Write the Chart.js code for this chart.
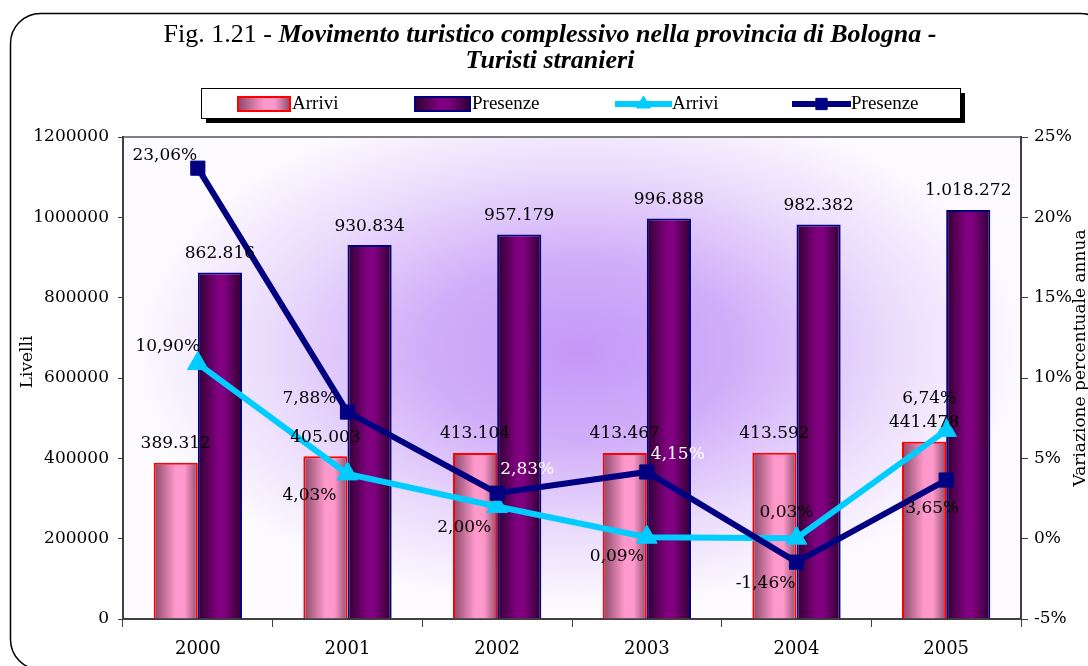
<!DOCTYPE html>
<html>
<head>
<meta charset="utf-8">
<script src="https://cdn.jsdelivr.net/npm/chart.js@4"></script>
<style>
  html, body { margin: 0; padding: 0; background: #fff; }
  #wrap { width: 1088px; height: 666px; position: relative; }
</style>
</head>
<body>
<div id="wrap"><canvas id="chart" width="1088" height="666"></canvas></div>
<script>
const years = ['2000', '2001', '2002', '2003', '2004', '2005'];
const arriviLevels = [389312, 405003, 413104, 413467, 413592, 441478];
const presenzeLevels = [862816, 930834, 957179, 996888, 982382, 1018272];
const arriviPct = [10.90, 4.03, 2.00, 0.09, 0.03, 6.74];
const presenzePct = [23.06, 7.88, 2.83, 4.15, -1.46, 3.65];
const leftTicks = [0, 200000, 400000, 600000, 800000, 1000000, 1200000];
const rightTicks = [-5, 0, 5, 10, 15, 20, 25];

// where each % label sits relative to its point (dx, dy, colour)
const arriviPctPlace = [[-30, -17], [-38, 22], [-33, 21], [-30, 19], [-10, -26], [-17, -32]];
const presenzePctPlace = [[-33, -13], [-38, -13], [30, -24, '#fff'], [31, -17, '#fff'], [-31, 21], [-14, 29]];

const SERIF = '"DejaVu Serif", Georgia, serif';
const TITLE_FONT = '"Liberation Serif", "Times New Roman", serif';
const CAT_PCT = 0.59;

const fmtLevel = v => String(v).replace(/\B(?=(\d{3})+(?!\d))/g, '.');
const fmtPct = v => v.toFixed(2).replace('.', ',') + '%';

function barGradient(ctx, x0, x1, which) {
  const g = ctx.createLinearGradient(x0, 0, x1, 0);
  if (which === 0) {
    g.addColorStop(0, '#8a4868');
    g.addColorStop(0.5, '#ff99cc');
    g.addColorStop(0.7, '#ff99cc');
    g.addColorStop(1, '#8e4c6c');
  } else {
    g.addColorStop(0, '#2e002e');
    g.addColorStop(0.45, '#800080');
    g.addColorStop(0.6, '#800080');
    g.addColorStop(1, '#2e002e');
  }
  return g;
}

function barFill(c) {
  const chart = c.chart;
  const xs = chart.scales.x;
  if (!chart.chartArea || !xs) return c.datasetIndex === 0 ? '#ff99cc' : '#800080';
  const center = xs.getPixelForValue(c.dataIndex);
  const w = xs.width / years.length * CAT_PCT / 2;
  const x0 = c.datasetIndex === 0 ? center - w : center;
  return barGradient(chart.ctx, x0, x0 + w, c.datasetIndex);
}

const frame = {
  id: 'frame',
  beforeDraw(chart) {
    const ctx = chart.ctx;
    const a = chart.chartArea;
    ctx.save();
    ctx.fillStyle = '#fff';
    ctx.fillRect(0, 0, chart.width, chart.height);
    // outer rounded border
    ctx.strokeStyle = '#000';
    ctx.lineWidth = 1.5;
    ctx.beginPath();
    ctx.roundRect(10.5, 13.5, 1100, 656, 30);
    ctx.stroke();
    // plot background
    ctx.save();
    ctx.beginPath();
    ctx.rect(a.left, a.top, a.right - a.left, a.bottom - a.top);
    ctx.clip();
    const cx = 580, cy = 350, rx = 450, ry = 260;
    ctx.translate(cx, cy);
    ctx.scale(1, ry / rx);
    const g = ctx.createRadialGradient(0, 0, 0, 0, 0, rx);
    g.addColorStop(0, '#c597f8');
    g.addColorStop(0.35, '#d1aef9');
    g.addColorStop(0.7, '#ebdcfc');
    g.addColorStop(1, '#fdfbff');
    ctx.fillStyle = g;
    ctx.fillRect(-rx * 2, -rx * 2, rx * 4, rx * 4);
    ctx.restore();
    ctx.strokeStyle = '#808080';
    ctx.lineWidth = 2;
    ctx.strokeRect(a.left, a.top, a.right - a.left, a.bottom - a.top);

    // title
    ctx.fillStyle = '#000';
    ctx.textBaseline = 'alphabetic';
    const part1 = 'Fig. 1.21 - ';
    const part2 = 'Movimento turistico complessivo nella provincia di Bologna -';
    ctx.font = '26px ' + TITLE_FONT;
    const w1 = ctx.measureText(part1).width;
    ctx.font = 'italic bold 26px ' + TITLE_FONT;
    const w2 = ctx.measureText(part2).width;
    let x = 550 - (w1 + w2) / 2;
    ctx.font = '26px ' + TITLE_FONT;
    ctx.textAlign = 'left';
    ctx.fillText(part1, x, 42);
    ctx.font = 'italic bold 26px ' + TITLE_FONT;
    ctx.fillText(part2, x + w1, 42);
    ctx.textAlign = 'center';
    ctx.fillText('Turisti stranieri', 550, 68);

    // axis titles
    ctx.font = '17px ' + SERIF;
    ctx.save();
    ctx.translate(28, 362);
    ctx.rotate(-Math.PI / 2);
    ctx.textBaseline = 'middle';
    ctx.fillText('Livelli', 0, 0);
    ctx.restore();
    ctx.save();
    ctx.translate(1081, 358);
    ctx.rotate(-Math.PI / 2);
    ctx.textBaseline = 'middle';
    ctx.fillText('Variazione percentuale annua', 0, 0);
    ctx.restore();

    // legend
    const lx = 201, ly = 88, lw = 759, lh = 30;
    ctx.fillStyle = '#000';
    ctx.fillRect(lx + 5, ly + 5, lw, lh);
    ctx.fillStyle = '#fff';
    ctx.fillRect(lx, ly, lw, lh);
    ctx.strokeStyle = '#000';
    ctx.lineWidth = 1;
    ctx.strokeRect(lx + 0.5, ly + 0.5, lw, lh);
    const ds = chart.data.datasets;
    const items = [[238, 292], [415, 472], [615, 672], [792, 851]];
    ctx.font = '19px ' + TITLE_FONT;
    ctx.textAlign = 'left';
    ctx.textBaseline = 'middle';
    const my = ly + lh / 2 + 1;
    items.forEach(([sx, tx], i) => {
      const d = ds[i];
      if (d.type === 'bar') {
        ctx.fillStyle = barGradient(ctx, sx, tx - 2, i);
        ctx.fillRect(sx, my - 7, tx - 2 - sx, 14);
        ctx.strokeStyle = d.borderColor;
        ctx.lineWidth = 2;
        ctx.strokeRect(sx, my - 7, tx - 2 - sx, 14);
      } else {
        ctx.strokeStyle = d.borderColor;
        ctx.fillStyle = d.backgroundColor;
        ctx.lineWidth = 6;
        ctx.beginPath();
        ctx.moveTo(sx, my);
        ctx.lineTo(tx, my);
        ctx.stroke();
        ctx.lineWidth = 1;
        Chart.helpers.drawPoint(ctx, {
          pointStyle: d.pointStyle, radius: 8, rotation: 0, borderWidth: 1
        }, (sx + tx) / 2, my);
      }
      ctx.fillStyle = '#000';
      ctx.fillText(d.label, tx, my);
    });
    ctx.restore();
  }
};

const labels = {
  id: 'valueLabels',
  afterDatasetsDraw(chart) {
    const ctx = chart.ctx;
    ctx.save();
    ctx.font = '17px ' + SERIF;
    ctx.textAlign = 'center';
    ctx.textBaseline = 'middle';
    chart.data.datasets.forEach((d, i) => {
      const meta = chart.getDatasetMeta(i);
      meta.data.forEach((el, j) => {
        if (d.type === 'bar') {
          ctx.fillStyle = '#000';
          ctx.fillText(fmtLevel(d.data[j]), el.x, el.y - 19);
        } else {
          const p = d.place[j];
          ctx.fillStyle = p[2] || '#000';
          ctx.fillText(fmtPct(d.data[j]), el.x + p[0], el.y + p[1]);
        }
      });
    });
    ctx.restore();
  }
};

new Chart(document.getElementById('chart'), {
  data: {
    labels: years,
    datasets: [
      {
        type: 'bar', label: 'Arrivi', data: arriviLevels, yAxisID: 'y',
        backgroundColor: barFill, borderColor: '#ff0000', borderWidth: 2,
        categoryPercentage: CAT_PCT, barPercentage: 1, order: 2
      },
      {
        type: 'bar', label: 'Presenze', data: presenzeLevels, yAxisID: 'y',
        backgroundColor: barFill, borderColor: '#000080', borderWidth: 2,
        categoryPercentage: CAT_PCT, barPercentage: 1, order: 3
      },
      {
        type: 'line', label: 'Arrivi', data: arriviPct, yAxisID: 'y1',
        borderColor: '#00ccff', backgroundColor: '#00ccff', borderWidth: 6,
        pointStyle: 'triangle', pointRadius: 12, pointBorderWidth: 1,
        tension: 0, order: 1, place: arriviPctPlace
      },
      {
        type: 'line', label: 'Presenze', data: presenzePct, yAxisID: 'y1',
        borderColor: '#000080', backgroundColor: '#000080', borderWidth: 6,
        pointStyle: 'rect', pointRadius: 10, pointBorderWidth: 1,
        tension: 0, order: 0, place: presenzePctPlace
      }
    ]
  },
  options: {
    responsive: false,
    animation: false,
    layout: { padding: { top: 137, left: 0, right: 0, bottom: 0 } },
    plugins: {
      legend: { display: false },
      title: { display: false },
      tooltip: { enabled: false }
    },
    scales: {
      x: {
        offset: true,
        grid: { offset: true, drawOnChartArea: false, color: '#404040', tickLength: 8, lineWidth: 1 },
        border: { color: '#404040', width: 2 },
        ticks: { color: '#000', font: { family: SERIF, size: 18 }, padding: 12 },
        afterFit: s => { s.height = 47; }
      },
      y: {
        position: 'left',
        min: 0, max: 1200000,
        afterBuildTicks: s => { s.ticks = leftTicks.map(v => ({ value: v })); },
        grid: { drawOnChartArea: false, color: '#404040', tickLength: 5 },
        border: { color: '#404040', width: 2 },
        ticks: { color: '#000', font: { family: SERIF, size: 17 }, padding: 9, callback: v => String(v) },
        afterFit: s => { s.width = 123; }
      },
      y1: {
        position: 'right',
        min: -5, max: 25,
        afterBuildTicks: s => { s.ticks = rightTicks.map(v => ({ value: v })); },
        grid: { drawOnChartArea: false, color: '#404040', tickLength: 7 },
        border: { color: '#404040', width: 2 },
        ticks: { color: '#000', font: { family: SERIF, size: 17 }, padding: 6, callback: v => v + '%' },
        afterFit: s => { s.width = 67; }
      }
    }
  },
  plugins: [frame, labels]
});
</script>
</body>
</html>
